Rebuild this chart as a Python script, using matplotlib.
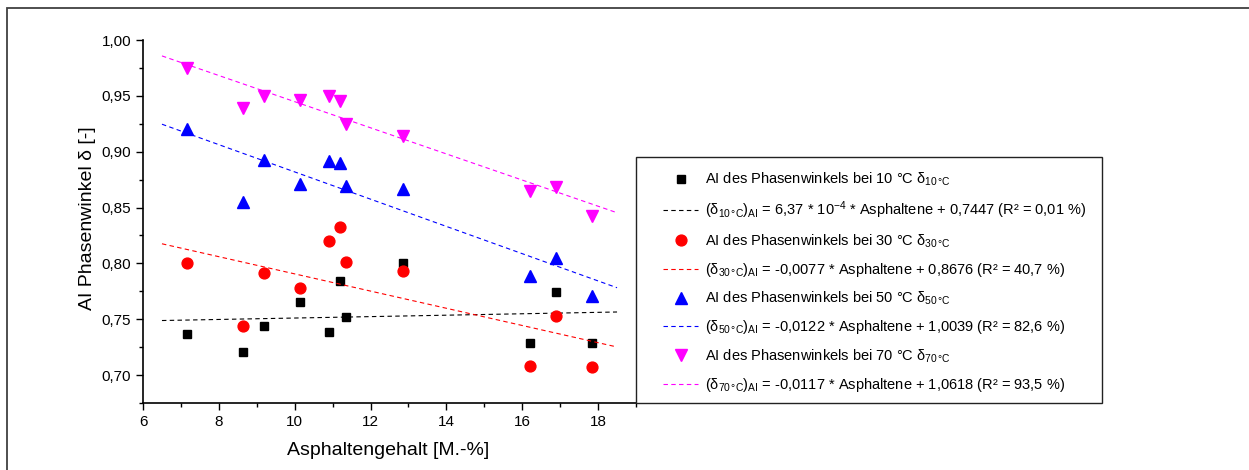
import numpy as np
import matplotlib
matplotlib.use('Agg')
import matplotlib.pyplot as plt
from matplotlib.ticker import MultipleLocator, FuncFormatter
from matplotlib.patches import Rectangle

plt.rcParams['font.family'] = ['Liberation Sans', 'DejaVu Sans']
plt.rcParams['mathtext.fontset'] = 'custom'
plt.rcParams['mathtext.rm'] = 'Liberation Sans'
plt.rcParams['mathtext.it'] = 'Liberation Sans'

# Asphaltengehalt [M.-%]
asphalt = [7.15, 8.65, 9.2, 10.15, 10.9, 11.2, 11.35, 12.85, 16.2, 16.9, 17.85]

# AI Phasenwinkel je Temperatur
ai_10 = [0.737, 0.721, 0.744, 0.765, 0.739, 0.784, 0.752, 0.800, 0.729, 0.774, 0.729]
ai_30 = [0.800, 0.744, 0.791, 0.778, 0.820, 0.833, 0.801, 0.793, 0.708, 0.753, 0.707]
ai_50 = [0.920, 0.855, 0.893, 0.871, 0.892, 0.890, 0.869, 0.867, 0.789, 0.805, 0.771]
ai_70 = [0.975, 0.939, 0.950, 0.946, 0.950, 0.945, 0.925, 0.914, 0.865, 0.868, 0.842]

# Regressionsgeraden (Steigung, Achsenabschnitt) aus der Legende
slopes = [6.37e-4, -0.0077, -0.0122, -0.0117]
intercepts = [0.7447, 0.8676, 1.0039, 1.0618]
fit_range = [6.5, 18.5]

temps = ['10', '30', '50', '70']
r2 = ['0,01', '40,7', '82,6', '93,5']
slope_txt = ['6,37 * 10$^{-4}$', '-0,0077', '-0,0122', '-0,0117']
icpt_txt = ['0,7447', '0,8676', '1,0039', '1,0618']

colors = ['black', '#ff0000', '#0000ff', '#ff00ff']
markers = ['s', 'o', '^', 'v']
msizes = [6.3, 7.8, 8.3, 8.3]

W, H = 1249, 470
fig = plt.figure(figsize=(W / 100, H / 100), dpi=100)
ax = fig.add_axes([143/W, 1 - 403/H, (636 - 143)/W, (403 - 40)/H])

# Rahmen um die ganze Abbildung (rechts/unten abgeschnitten)
fig.patches.append(Rectangle((7/W, -0.05), 1.1, 1.05 - 8/H,
                             transform=fig.transFigure, fill=False,
                             edgecolor='#404040', linewidth=1.3))
# Legendenrahmen
fig.patches.append(Rectangle((636/W, 1 - 403/H), (1102 - 636)/W, (403 - 157)/H,
                             transform=fig.transFigure, fill=False,
                             edgecolor='#222222', linewidth=1.0, zorder=5))

handles = []
labels = []
all_y = [ai_10, ai_30, ai_50, ai_70]
xf = np.array(fit_range)
for i in range(4):
    h1, = ax.plot(asphalt, all_y[i], ls='none', marker=markers[i], ms=msizes[i],
                  color=colors[i], mec=colors[i])
    h2, = ax.plot(xf, slopes[i] * xf + intercepts[i], color=colors[i], lw=0.8,
                  ls=(0, (4, 3)))
    handles += [h1, h2]
    t = temps[i]
    labels.append(r'AI des Phasenwinkels bei %s °C $\mathrm{\delta}_{%s\,°C}$' % (t, t))
    labels.append(r'$(\mathrm{\delta}_{%s\,°C})_{AI}$ = %s * Asphaltene + %s (R² = %s %%)'
                  % (t, slope_txt[i], icpt_txt[i], r2[i]))

ax.set_xlim(6, 19)
ax.set_ylim(0.675, 1.0)
ax.xaxis.set_major_locator(MultipleLocator(2))
ax.xaxis.set_minor_locator(MultipleLocator(1))
ax.yaxis.set_major_locator(MultipleLocator(0.05))
ax.yaxis.set_minor_locator(MultipleLocator(0.025))
ax.yaxis.set_major_formatter(FuncFormatter(lambda v, p: ('%.2f' % v).replace('.', ',')))
ax.tick_params(which='major', direction='out', length=5, width=1, labelsize=11)
ax.tick_params(which='minor', direction='out', length=3, width=1)
ax.spines['top'].set_visible(False)
ax.spines['right'].set_visible(False)
ax.spines['left'].set_linewidth(1.2)
ax.spines['bottom'].set_linewidth(1.2)

ax.set_xlabel('Asphaltengehalt [M.-%]', fontsize=14)
ax.set_ylabel('AI Phasenwinkel δ [-]', fontsize=14)
ax.xaxis.set_label_coords(0.497, -0.107)
ax.yaxis.set_label_coords(-0.095, 0.51)

leg = fig.legend(handles, labels, loc='upper left',
                 bbox_to_anchor=(663/W, 1 - 171/H), bbox_transform=fig.transFigure,
                 fontsize=10.5, frameon=False, handlelength=2.4, handletextpad=0.45,
                 labelspacing=0.76, borderpad=0, borderaxespad=0)

fig.savefig('out.png', dpi=100)
